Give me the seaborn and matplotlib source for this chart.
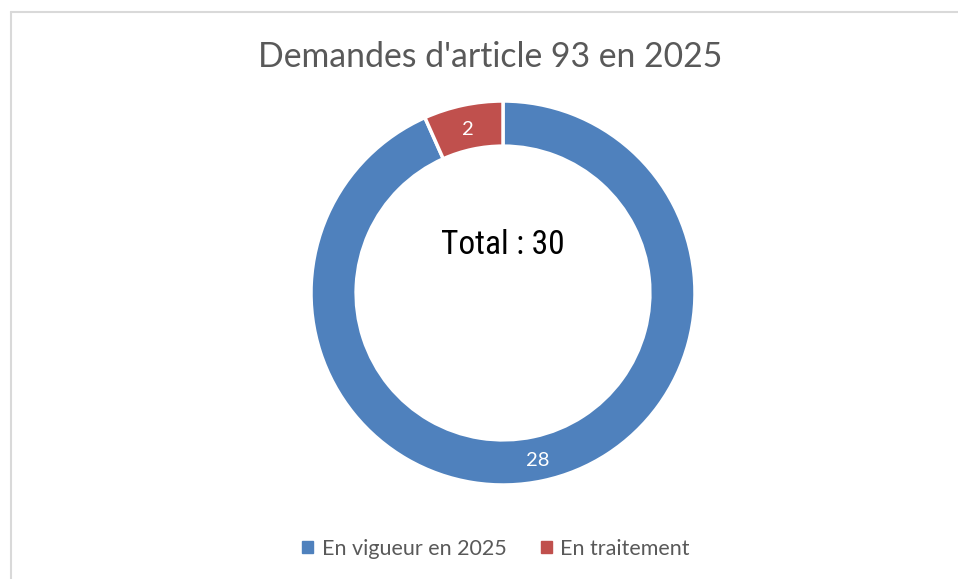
import matplotlib
matplotlib.use("Agg")
import matplotlib.pyplot as plt
from matplotlib.lines import Line2D
import numpy as np
import seaborn as sns

categories = ["En vigueur en 2025", "En traitement"]
values = [28, 2]
colors = ["#4F81BD", "#C0504D"]
title = "Demandes d'article 93 en 2025"
center_text = "Total : 30"

sns.set_theme(style="white")
plt.rcParams['font.family'] = ['Lato', 'DejaVu Sans']

W, H = 958, 579
fig = plt.figure(figsize=(W / 100, H / 100), dpi=100)
fig.patch.set_facecolor("white")

cx, cy, R = 503, 579 - 293, 192
ax = fig.add_axes([(cx - R) / W, (cy - R) / H, 2 * R / W, 2 * R / H])
wedges, texts = ax.pie(
    values, colors=colors, startangle=90, counterclock=False, radius=1.0,
    wedgeprops=dict(width=0.235, edgecolor="white", linewidth=2.5),
)
ax.set_xlim(-1, 1)
ax.set_ylim(-1, 1)
ax.set_aspect("equal")
ax.axis("off")

# data labels in ring middle
total = sum(values)
start = 90.0
rm = 1 - 0.235 / 2
for v in values:
    ang = start - 360 * v / total / 2
    start -= 360 * v / total
    x, y = rm * np.cos(np.radians(ang)), rm * np.sin(np.radians(ang))
    ax.text(x, y - 0.01, str(v), ha="center", va="center", color="white", fontsize=14.5)

ax.text(0, 0.25, center_text, ha="center", va="center", color="black",
        fontsize=24, fontstretch="condensed",
        family=['Roboto Condensed', 'Open Sans Condensed', 'Lato', 'DejaVu Sans'])

fig.text(490 / W, 1 - 57 / H, title, ha="center", va="center", color="#595959", fontsize=24.3)

handles = [plt.Rectangle((0, 0), 1, 1, color=c) for c in colors]
fig.legend(handles, categories, loc="center", bbox_to_anchor=(496 / W, 1 - 549 / H),
           ncol=2, frameon=False, fontsize=15.5, handlelength=0.5, handleheight=0.5,
           handletextpad=0.4, columnspacing=1.6, labelcolor="#595959")

fig.add_artist(Line2D([10.5 / W, 10.5 / W], [0, 1 - 12 / H], transform=fig.transFigure,
                      color="#D9D9D9", linewidth=1.5))
fig.add_artist(Line2D([10.5 / W, 1], [1 - 12 / H, 1 - 12 / H], transform=fig.transFigure,
                      color="#D9D9D9", linewidth=1.5))

fig.savefig("out.png", dpi=100, facecolor="white")
